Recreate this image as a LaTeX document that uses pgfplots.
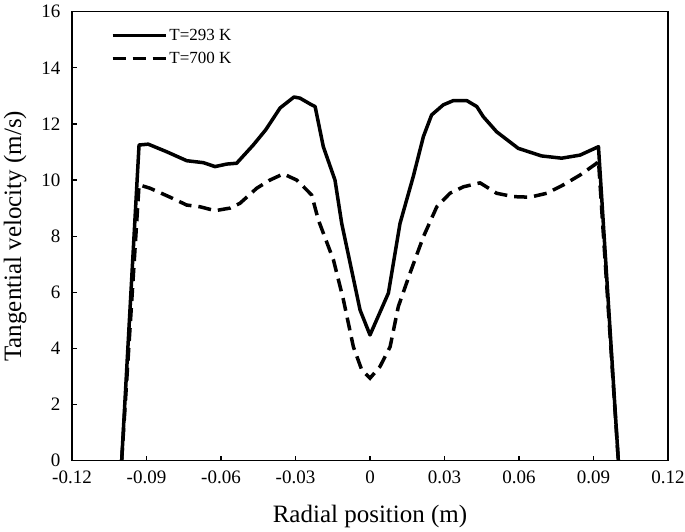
\documentclass[border=0pt]{standalone}
\usepackage{fontspec}
\setmainfont{Liberation Serif}
\usepackage{pgfplots}
\pgfplotsset{compat=1.18}

% radial profiles of tangential velocity
\pgfplotstableread{
x y
-0.1 0
-0.093 11.25
-0.0893 11.28
-0.0819 11.01
-0.0738 10.69
-0.0671 10.62
-0.0624 10.48
-0.0577 10.57
-0.0537 10.60
-0.047 11.25
-0.042 11.79
-0.0362 12.57
-0.0306 12.96
-0.0282 12.92
-0.0235 12.68
-0.0221 12.62
-0.0188 11.19
-0.0141 10.00
-0.0114 8.46
-0.004 5.37
0 4.48
0.0074 5.97
0.0121 8.46
0.0174 10.12
0.0215 11.55
0.0248 12.32
0.0295 12.68
0.0335 12.83
0.039 12.83
0.043 12.62
0.0456 12.26
0.051 11.72
0.0597 11.13
0.0691 10.86
0.0772 10.78
0.0846 10.89
0.092 11.19
0.1 0
}\tcold

\pgfplotstableread{
x y
-0.1 0
-0.093 9.83
-0.0886 9.71
-0.0805 9.39
-0.0738 9.11
-0.0685 9.05
-0.0624 8.91
-0.0564 9.00
-0.0524 9.17
-0.0456 9.71
-0.0403 10.00
-0.0349 10.22
-0.0295 10.00
-0.0282 9.89
-0.0235 9.47
-0.0208 8.58
-0.0147 7.15
-0.0107 5.73
-0.0067 4.06
-0.0033 3.23
0 2.94
0.004 3.35
0.0081 4.06
0.0114 5.49
0.0161 6.68
0.0215 7.98
0.0269 9.05
0.0322 9.53
0.0376 9.76
0.0443 9.90
0.0456 9.83
0.0510 9.53
0.0577 9.41
0.0644 9.39
0.0712 9.53
0.0779 9.83
0.0846 10.18
0.0913 10.60
0.092 10.70
0.1 0
}\thot

\begin{document}
\begin{tikzpicture}
  \begin{axis}[
    scale only axis,
    width=596bp, height=449bp,
    xmin=-0.12, xmax=0.12,
    ymin=0, ymax=16,
    xtick={-0.12,-0.09,-0.06,-0.03,0,0.03,0.06,0.09,0.12},
    xticklabels={-0.12,-0.09,-0.06,-0.03,0,0.03,0.06,0.09,0.12},
    ytick={0,2,...,16},
    /pgf/number format/assume math mode=true,
    tick align=inside,
    xtick pos=bottom, ytick pos=left,
    major tick length=5bp,
    tick style={line width=1.2bp, black},
    axis line style={line width=1.5bp},
    ticklabel style={font=\fontsize{19bp}{22bp}\selectfont},
    xticklabel style={yshift=-7bp},
    yticklabel style={xshift=-8bp},
    xlabel={Radial position (m)},
    ylabel={Tangential velocity (m/s)},
    label style={font=\fontsize{25bp}{29bp}\selectfont},
    xlabel style={yshift=-14bp},
    ylabel style={yshift=8bp},
    legend style={draw=none, fill=none, at={(rel axis cs:0.06,0.97)}, anchor=north west,
      font=\fontsize{17bp}{20bp}\selectfont, row sep=6bp,
      /tikz/every even column/.append style={column sep=0bp}},
    legend cell align=left,
    legend image code/.code={\draw[#1] (0bp,0bp) -- (53bp,0bp);},
  ]
    \addplot[black, line width=3.5bp, line join=round] table {\tcold};
    \addlegendentry{T=293 K}
    \addplot[black, line width=3.5bp, dash pattern=on 13bp off 7bp] table {\thot};
    \addlegendentry{T=700 K}
    \coordinate (sw) at (rel axis cs:0,0);
    \coordinate (ne) at (rel axis cs:1,1);
  \end{axis}
  \pgfresetboundingbox
  \path ([shift={(-72bp,-71.3bp)}]sw) rectangle ([shift={(17bp,11.7bp)}]ne);
\end{tikzpicture}
\end{document}
